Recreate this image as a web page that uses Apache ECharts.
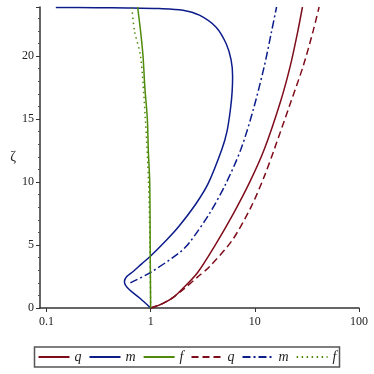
<!DOCTYPE html>
<html>
<head>
<meta charset="utf-8">
<script src="https://cdn.jsdelivr.net/npm/echarts@6/dist/echarts.min.js"></script>
<style>
  html, body { margin: 0; padding: 0; background: #fff; }
  #chart { width: 374px; height: 374px; }
</style>
</head>
<body>
<div id="chart"></div>
<script>
// curves as [x, zeta] pairs
const qSolid = [[1, 0], [1.302, 0.35], [1.624, 0.8], [1.98, 1.45], [2.817, 2.8], [4.1, 4.9], [6.23, 7.5],
  [8.86, 9.93], [12.33, 12.6], [17.81, 16.5], [21.87, 19.2], [25.68, 21.85], [28.67, 23.9]];
const mSolid = [[1, 0], [0.79, 0.77], [0.63, 1.43], [0.575, 1.8], [0.56, 2.1], [0.59, 2.5], [0.68, 2.9],
  [0.82, 3.5], [1, 4.13], [1.422, 5.4], [1.853, 6.45], [2.755, 8.34], [3.59, 9.93], [4.83, 12.6],
  [5.4, 14], [5.83, 15.76], [6.06, 17.2], [6.12, 18.4], [5.92, 19.7], [5.3, 21.0], [4.25, 22.3],
  [2.94, 23.25], [2.04, 23.65], [1.2, 23.78], [0.6, 23.83], [0.3, 23.85], [0.123, 23.86]];
const fSolid = [[1, 0], [0.99, 5], [0.98, 10], [0.95, 12.5], [0.93, 15], [0.88, 17.5], [0.845, 20],
  [0.8, 22], [0.75, 23.9]];
const qDashed = [[1, 0], [1.302, 0.35], [1.624, 0.8], [2.116, 1.56], [2.817, 2.45], [3.67, 3.28],
  [6.09, 5.4], [9.26, 8.07], [12.33, 10.45], [15.37, 12.6], [21.4, 16.0], [29.1, 19.2], [36.3, 22.0],
  [41.4, 23.9]];
const mDashDot = [[0.639, 2.0], [1, 2.83], [1.895, 4.4], [2.362, 5.2], [3.67, 7.5], [5.22, 9.8],
  [7.35, 12.6], [9.67, 15.76], [12.33, 19.2], [14.39, 21.85], [16.17, 23.9]];
const fDotted = [[1, 0], [0.985, 5], [0.955, 10], [0.89, 15], [0.8, 20], [0.7, 22], [0.66, 23.9]];

const RED = '#7f0c1a';
const BLUE = '#0c1c8a';
const GREEN = '#4f8a0a';
const serif = "'Liberation Serif', 'DejaVu Serif', serif";

const chart = echarts.init(document.getElementById('chart'), null, { renderer: 'canvas' });

function line(name, data, color, type) {
  return {
    name: name,
    type: 'line',
    data: data,
    showSymbol: false,
    symbol: 'none',
    smooth: 0.3,
    lineStyle: { color: color, width: 1.5, type: type },
    itemStyle: { color: color },
  };
}

chart.setOption({
  animation: false,
  grid: { left: 40, right: 15, top: 7, bottom: 66 },
  legend: {
    left: 'center',
    top: 347,
    padding: [3, 3],
    itemWidth: 31,
    itemHeight: 10,
    itemGap: 7,
    borderColor: '#555',
    borderWidth: 1.5,
    borderRadius: 0,
    itemStyle: { color: 'transparent', borderColor: 'transparent', borderWidth: 0 },
    formatter: (name) => name.charAt(0),
    textStyle: { fontFamily: serif, fontStyle: 'italic', fontSize: 14, color: '#222' },
    data: ['q1', 'm1', 'f1', 'q2', 'm2', 'f2'],
  },
  xAxis: {
    type: 'log',
    logBase: 10,
    min: 0.0867,
    max: 100,
    axisLine: { lineStyle: { color: '#333', width: 1.5 } },
    axisTick: { inside: false, length: 4, lineStyle: { color: '#333' } },
    axisLabel: { fontFamily: serif, fontSize: 12, color: '#222', margin: 8, showMinLabel: false },
    splitLine: { show: false },
  },
  yAxis: {
    type: 'value',
    min: 0,
    max: 23.9,
    interval: 5,
    name: 'ζ',
    nameLocation: 'middle',
    nameRotate: 0,
    nameGap: 24,
    nameTextStyle: { fontFamily: serif, fontSize: 14, color: '#222', padding: [10, 0, 0, 0] },
    axisLine: { show: true, lineStyle: { color: '#333', width: 1.5 } },
    axisTick: { show: true, length: 4, lineStyle: { color: '#333' } },
    minorTick: { show: true, splitNumber: 5, length: 2, lineStyle: { color: '#555' } },
    axisLabel: { fontFamily: serif, fontSize: 12, color: '#222', margin: 6, showMaxLabel: false },
    splitLine: { show: false },
  },
  series: [
    line('q1', qSolid, RED, 'solid'),
    line('m1', mSolid, BLUE, 'solid'),
    line('f1', fSolid, GREEN, 'solid'),
    line('q2', qDashed, RED, [7, 4]),
    line('m2', mDashDot, BLUE, [8, 3, 2, 3]),
    line('f2', fDotted, GREEN, [1.5, 3.5]),
  ],
});
</script>
</body>
</html>
